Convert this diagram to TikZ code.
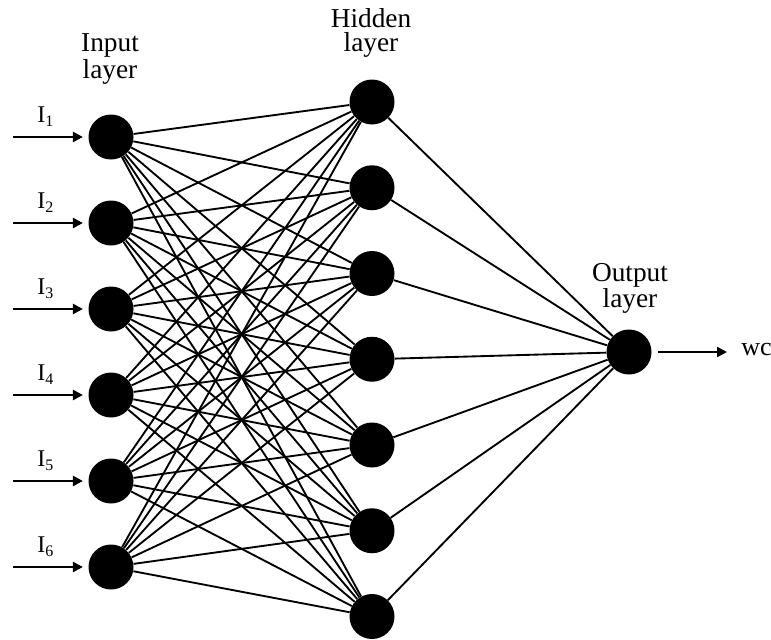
\documentclass[tikz,border=0pt]{standalone}
\usepackage{fontspec}
\setmainfont{Liberation Serif}
\usetikzlibrary{arrows.meta}
\newcommand{\insub}[1]{\raisebox{-0.4ex}{\fontsize{12}{12}\selectfont #1}}
\begin{document}
\begin{tikzpicture}[
        x=0.75pt, y=-0.75pt,
        neuron/.style={circle, fill=black, minimum size=33.75pt, inner sep=0pt},
        layername/.style={align=center, inner sep=0pt, font=\fontsize{20.5}{18.5}\selectfont},
        inlabel/.style={anchor=base west, inner sep=0pt, font=\fontsize{18}{18}\selectfont},
        link/.style={line width=1.4pt},
        arrow/.style={-{Triangle[length=7.5pt, width=7.5pt]}, line width=1.8pt}
    ]
        \useasboundingbox (0,0) rectangle (771,639);

        % Input layer
        \foreach \i in {1,...,6} {
            \node[neuron] (in\i) at (111, {137+86*(\i-1)}) {};
            \coordinate (src\i) at (13, {137+86*(\i-1)});
            \node[inlabel] (lab\i) at (37, {122+86*(\i-1)}) {I\insub{\i}};
        }

        % Hidden layer
        \foreach \j in {1,...,7}
            \node[neuron] (hid\j) at (372, {102+85.75*(\j-1)}) {};

        % Output layer
        \node[neuron] (out) at (629, 352) {};
        \coordinate (outend) at (727, 352);
        \node[inlabel, font=\fontsize{19.5}{20}\selectfont] (wc) at (741, 355) {wc};

        % Layer names
        \node[layername] (inname) at (110, 59) {Input\\layer};
        \node[layername] (hidname) at (371, 33) {Hidden\\layer};
        \node[layername] (outname) at (630, 288) {Output\\layer};

        % Connections
        \foreach \i in {1,...,6}
            \foreach \j in {1,...,7}
                \draw[link] (in\i) -- (hid\j);
        \foreach \j in {1,...,7}
            \draw[link] (hid\j) -- (out);

        \foreach \i in {1,...,6}
            \draw[arrow, shorten >=4pt] (src\i) -- (in\i);
        \draw[arrow, shorten <=5pt] (out) -- (outend);
    \end{tikzpicture}
\end{document}
